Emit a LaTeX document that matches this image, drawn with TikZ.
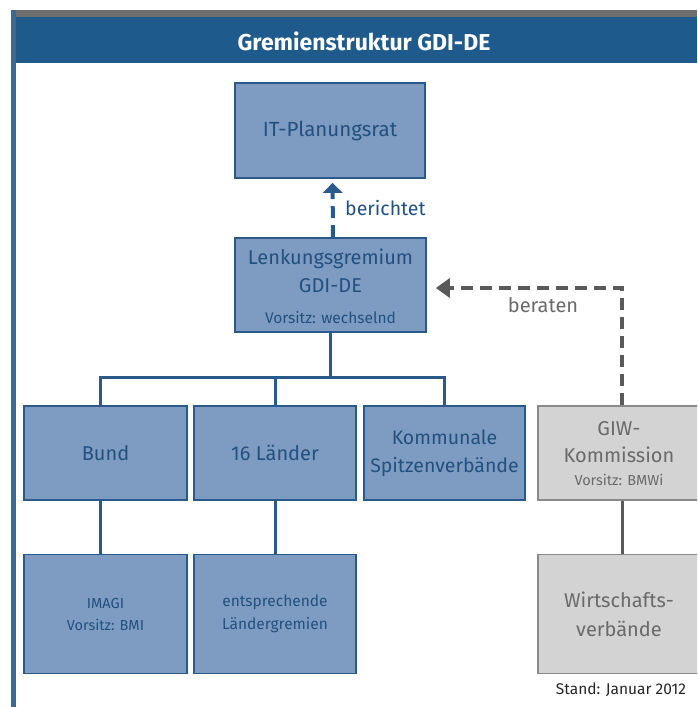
\documentclass[tikz,border=0pt]{standalone}
\usepackage{fontspec}
\setmainfont{Fira Sans}
\usetikzlibrary{arrows.meta,calc}
\definecolor{hdrblue}{HTML}{1E5B8C}
\definecolor{boxfill}{HTML}{7E9CC2}
\definecolor{boxline}{HTML}{2A5A8C}
\definecolor{boxtext}{HTML}{22507F}
\definecolor{greyfill}{HTML}{D3D3D3}
\definecolor{greyline}{HTML}{8A8A8A}
\definecolor{greytext}{HTML}{6A6A6A}
\definecolor{dashgrey}{HTML}{5A5A5A}
\definecolor{framegrey}{HTML}{6E6E6E}
\definecolor{leftline}{HTML}{3E6890}
\tikzset{
  bluebox/.style={draw=boxline, fill=boxfill, line width=1.8pt, text=boxtext, align=center, font=\fontsize{20}{28}\selectfont, inner sep=0pt},
  greybox/.style={draw=greyline, fill=greyfill, line width=1.8pt, text=greytext, align=center, font=\fontsize{20}{28}\selectfont, inner sep=0pt},
  tree/.style={draw=boxline, line width=3pt},
  bdash/.style={draw=boxline, line width=4pt, dash pattern=on 12pt off 7pt},
  gdash/.style={draw=dashgrey, line width=4pt, dash pattern=on 12pt off 7pt},
  big/.style={inner sep=0pt, font=\fontsize{20}{24}\selectfont},
  lbl/.style={inner sep=0pt, font=\fontsize{19.5}{22}\selectfont},
  small/.style={inner sep=0pt, font=\fontsize{15.5}{18}\selectfont}
}
\begin{document}
\begin{tikzpicture}[x=1pt,y=-1pt]
\useasboundingbox (0,0) rectangle (697,707);
\begin{scope}
\clip (0,0) rectangle (697,707);
% frame
\fill[framegrey] (11,10) rectangle (697,17);
\fill[hdrblue] (11,17) rectangle (697,63);
\fill[leftline] (11,10) rectangle (16,707);
\node[text=white, font=\bfseries\fontsize{23}{26}\selectfont] (title) at (364,41) {Gremienstruktur GDI-DE};
% boxes
\node[bluebox, minimum width=190pt, minimum height=95pt, font=\fontsize{20.5}{24}\selectfont] (it) at (330,130.5) {IT-Planungsrat};
\node[bluebox, minimum width=191pt, minimum height=94pt] (lenk) at (330.5,285) {};
\node[boxtext, big] (lenk1) at (330.5,259) {Lenkungsgremium};
\node[boxtext, big] (lenk2) at (330.5,286) {GDI-DE};
\node[boxtext, small] (lenk3) at (330.5,318) {Vorsitz: wechselnd};
\node[bluebox, minimum width=163pt, minimum height=94pt] (bund) at (105.5,453) {Bund};
\node[bluebox, minimum width=162pt, minimum height=94pt] (laender) at (275,453) {16 Länder};
\node[bluebox, minimum width=161pt, minimum height=94pt, font=\fontsize{19.5}{28}\selectfont] (kommunal) at (444.5,453) {Kommunale\\Spitzenverbände};
\node[greybox, minimum width=162pt, minimum height=94pt] (giw) at (619,453) {};
\node[greytext, big] (giw1) at (619,429) {GIW-};
\node[greytext, big] (giw2) at (619,455) {Kommission};
\node[greytext, small, font=\fontsize{14.5}{18}\selectfont] (giw3) at (619,480) {Vorsitz: BMWi};
\node[bluebox, minimum width=163pt, minimum height=119pt, font=\fontsize{14.5}{22}\selectfont] (imagi) at (105.5,614) {IMAGI\\Vorsitz: BMI};
\node[bluebox, minimum width=162pt, minimum height=119pt, font=\fontsize{15.5}{23}\selectfont] (lgrem) at (275,614) {entsprechende\\Ländergremien};
\node[greybox, minimum width=162pt, minimum height=119pt, font=\fontsize{20}{29}\selectfont] (wirt) at (619,614) {Wirtschafts-\\verbände};
% tree
\coordinate (j) at (333,377);
\draw[tree] (lenk.south) -- (lenk.south |- j);
\draw[tree] ([xshift=-5pt]bund.north) |- (kommunal.north |- j) -- (kommunal.north);
\draw[tree] (laender.north) -- (laender.north |- j);
\draw[tree] ([xshift=-5pt]bund.south) -- ([xshift=-5pt]imagi.north);
\draw[tree] (laender) -- (lgrem);
\draw[tree, draw=dashgrey] ([xshift=3pt]giw.south) -- ([xshift=3pt]wirt.north);
% dashed connectors
\draw[bdash, shorten >=4pt, -{Triangle[width=20pt,length=10pt,line width=0pt]}] ([xshift=2.5pt]lenk.north) -- ([xshift=2.5pt]it.south);
\node[lbl, text=boxtext, anchor=west] (ber) at (345,208) {berichtet};
\draw[gdash, shorten >=9pt, -{Triangle[width=20pt,length=14pt,line width=0pt]}] ([xshift=3pt]giw.north) |- ([yshift=-3pt]lenk.east);
\node[lbl, text=greytext, font=\fontsize{20}{22}\selectfont] (bera) at (543,305) {beraten};
\node[font=\fontsize{15.5}{18}\selectfont, text=black!85, inner sep=0pt] (stand) at (621,690) {Stand: Januar 2012};
\end{scope}
\end{tikzpicture}
\end{document}
